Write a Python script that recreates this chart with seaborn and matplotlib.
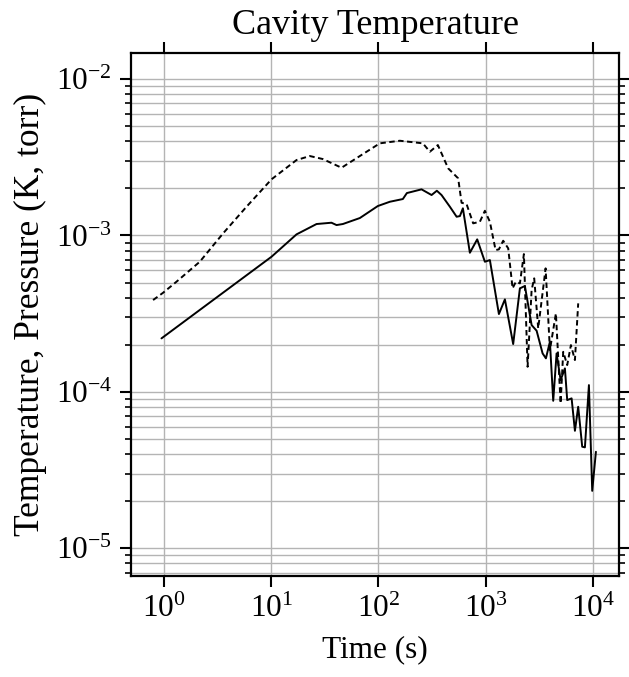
import matplotlib
matplotlib.use("Agg")
import matplotlib.pyplot as plt
import matplotlib.ticker as mticker
import numpy as np
import pandas as pd
import seaborn as sns

# values (log-log)
time_solid = [0.952, 10.09, 17.25, 26.5, 36.5, 40.7, 46.6, 67.1, 98.7, 127.7, 168.8, 184,
              252, 312.6, 350, 387, 463, 535, 574, 612, 711, 832, 981, 1092, 1325, 1507,
              1800, 2079, 2314, 2673, 2976, 3383, 3633, 3958, 4249, 4568, 4979, 5460,
              5737, 6303, 6768, 7262, 7915, 8386, 9139, 9808, 10620]
temp_solid = [2.198e-4, 7.31e-4, 1.016e-3, 1.183e-3, 1.206e-3, 1.165e-3, 1.183e-3, 1.292e-3,
              1.542e-3, 1.642e-3, 1.709e-3, 1.866e-3, 1.971e-3, 1.813e-3, 1.931e-3, 1.813e-3,
              1.526e-3, 1.317e-3, 1.330e-3, 1.491e-3, 7.75e-4, 9.44e-4, 6.79e-4, 6.96e-4,
              3.144e-4, 3.902e-4, 2.021e-4, 4.59e-4, 4.75e-4, 2.674e-4, 2.459e-4, 1.762e-4,
              1.638e-4, 2.09e-4, 8.77e-5, 1.762e-4, 1.189e-4, 1.413e-4, 8.86e-5, 9.09e-5,
              5.64e-5, 8.03e-5, 4.46e-5, 4.42e-5, 1.105e-4, 2.33e-5, 4.14e-5]

time_dashed = [0.795, 0.985, 1.313, 2.165, 3.57, 5.9, 10.09, 17.25, 22.95, 30.3, 45.3, 77.5,
               103.0, 158.2, 259.3, 301.3, 357.8, 446.3, 553, 595, 662, 763, 881, 981, 1092,
               1234, 1325, 1453, 1618, 1777, 1908, 2079, 2265, 2453, 2673, 2826, 3079, 3609,
               3958, 4501, 4979, 5265, 5737, 6210, 6768, 7262]
pres_dashed = [3.864e-4, 4.30e-4, 5.06e-4, 6.79e-4, 1.031e-3, 1.526e-3, 2.285e-3, 3.034e-3,
               3.218e-3, 3.079e-3, 2.709e-3, 3.428e-3, 3.880e-3, 4.031e-3, 3.880e-3, 3.428e-3,
               3.784e-3, 2.685e-3, 2.318e-3, 1.618e-3, 1.588e-3, 1.195e-3, 1.223e-3, 1.438e-3,
               1.223e-3, 8.06e-4, 8.15e-4, 9.25e-4, 8.27e-4, 4.59e-4, 5.06e-4, 4.94e-4, 7.60e-4,
               1.447e-4, 4.48e-4, 5.32e-4, 2.547e-4, 6.16e-4, 1.85e-4, 3.176e-4, 8.44e-5,
               1.804e-4, 1.484e-4, 1.991e-4, 1.597e-4, 3.68e-4]

sns.set_style("ticks", {'axes.edgecolor': 'black', 'text.color': 'black',
                        'axes.labelcolor': 'black', 'xtick.color': 'black',
                        'ytick.color': 'black'})
plt.rcParams['font.family'] = ['Liberation Serif', 'DejaVu Serif']
plt.rcParams['mathtext.fontset'] = 'stix'

fig = plt.figure(figsize=(6.29, 6.77), dpi=100)
ax = fig.add_axes([0.209, 0.1496, 0.775, 0.7716])

solid = pd.DataFrame({'time': time_solid, 'value': temp_solid})
dashed = pd.DataFrame({'time': time_dashed, 'value': pres_dashed})
sns.lineplot(data=solid, x='time', y='value', color='black', linewidth=1.4, ax=ax)
sns.lineplot(data=dashed, x='time', y='value', color='black', linewidth=1.4,
             linestyle=(0, (2.8, 1.8)), ax=ax)

ax.set_xscale('log')
ax.set_yscale('log')
ax.set_xlim(0.5, 17400)
ax.set_ylim(6.68e-6, 1.459e-2)

ax.xaxis.set_major_locator(mticker.LogLocator(base=10, numticks=10))
ax.xaxis.set_minor_locator(mticker.NullLocator())
ax.yaxis.set_major_locator(mticker.LogLocator(base=10, numticks=10))
ax.yaxis.set_minor_locator(mticker.LogLocator(base=10, subs=np.arange(2, 10), numticks=20))
ax.yaxis.set_minor_formatter(mticker.NullFormatter())

ax.grid(True, which='major', axis='both', color='#b4b4b4', linewidth=1.0)
ax.grid(True, which='minor', axis='y', color='#b4b4b4', linewidth=1.0)
ax.set_axisbelow(True)

for s in ax.spines.values():
    s.set_linewidth(1.6)
    s.set_color('black')
    s.set_visible(True)
ax.tick_params(which='major', direction='out', length=8, width=1.5, labelsize=22.5,
               top=True, right=True, pad=6, color='black', labelcolor='black')
ax.tick_params(which='minor', direction='out', length=4, width=1.2, top=False, right=True,
               color='black')

ax.set_title('Cavity Temperature', fontsize=26, pad=14, color='black')
ax.set_xlabel('Time (s)', fontsize=22.5, labelpad=8, color='black')
ax.set_ylabel('Temperature, Pressure (K, torr)', fontsize=25.5, labelpad=6, color='black')

fig.savefig('out.png', dpi=100)
